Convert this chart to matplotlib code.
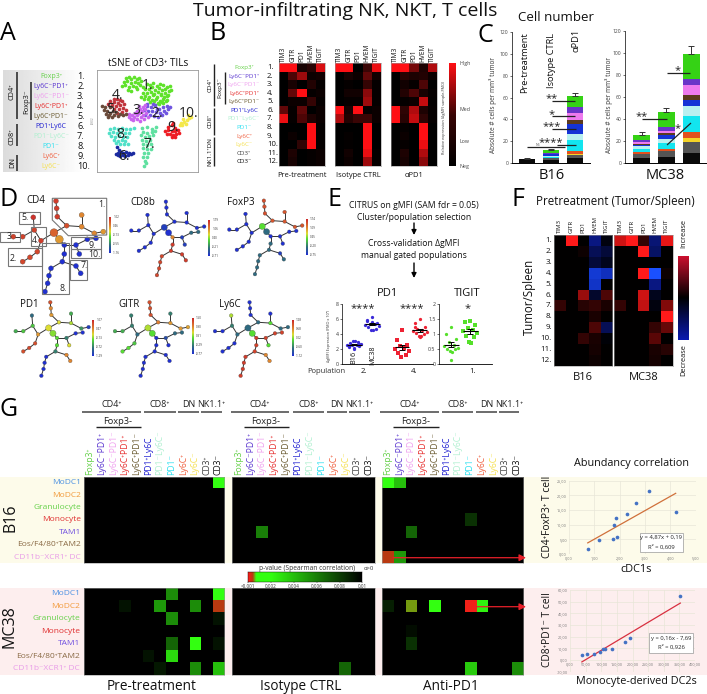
import numpy as np
import matplotlib
matplotlib.use('Agg')
import matplotlib.pyplot as plt
from matplotlib.colors import LinearSegmentedColormap
from matplotlib.patches import Rectangle, Polygon

plt.rcParams['font.family'] = ['Open Sans', 'DejaVu Sans']

W, H = 707, 694

# ---------- data ----------
markers = ['TIM3', 'GITR', 'PD1', 'HVEM', 'TIGIT']
pop_names = ['Foxp3⁺', 'Ly6C⁻PD1⁺', 'Ly6C⁻PD1⁻', 'Ly6C⁺PD1⁺', 'Ly6C⁺PD1⁻', 'PD1⁺Ly6C', 'PD1⁻Ly6C⁻', 'PD1⁻', 'Ly6C⁺', 'Ly6C⁻', 'CD3⁺', 'CD3⁻']
pop_colors = ['#66d14a', '#5a35d0', '#efa0ef', '#e62e2e', '#6a5a30', '#2020d0', '#b0f0d0', '#30e0f0', '#f06040', '#f5e050', '#444444', '#111111']

# panel A, tSNE clusters
c1 = [(378,234),(386,230),(394,236),(402,232),(410,238),(418,234),(372,246),(382,244),(392,248),(404,246),(414,250),(424,244),(366,258),(376,256),(388,260),(398,258),(408,262),(420,256),(430,260),(384,270),(394,272),(410,266),(440,252),(450,256),(460,250),(470,258),(480,252),(490,256),(500,262),(510,258),(436,266),(446,268),(456,262),(466,270),(476,264),(486,270),(496,266),(506,272),(514,270),(430,280),(440,278),(452,276),(462,282),(474,276),(484,282),(494,278),(504,284),(424,290),(436,288),(448,292),(458,286),(470,290),(482,284),(492,292),(502,288),(432,298),(444,296),(456,300),(468,296),(480,302),(490,298),(500,300),(450,306),(462,304),(474,310),(486,306),(498,304),(466,314),(478,312),(490,308)]
c2 = [(440,318),(452,322),(464,316),(476,326),(488,322),(500,318),(510,322),(432,330),(444,332),(456,334),(468,336),(480,338),(492,332),(504,328),(436,344),(450,346),(462,348),(474,350),(486,346),(498,340),(470,326),(458,312),(442,312)]
c3 = [(388,350),(396,344),(404,338),(412,332),(420,326),(428,320),(392,356),(402,352),(410,346),(418,340),(426,334),(434,328),(400,360),(412,358),(422,352),(430,346),(438,340),(420,362),(432,356),(444,352),(436,316),(416,318),(386,342)]
c4 = [(340,298),(350,296),(360,300),(330,304),(342,306),(354,308),(366,304),(322,312),(334,316),(348,318),(360,314),(372,312),(340,326),(356,328),(368,324),(350,338),(364,336),(378,330)]
c5 = [(306,318),(314,322),(310,330),(320,334),(316,342),(326,346),(322,352),(334,350),(342,344),(352,348),(360,342),(370,346),(378,342),(328,322),(338,332),(348,336),(330,340)]
c6 = [(346,462),(354,458),(362,456),(370,460),(378,456),(386,460),(394,462),(352,466),(360,468),(368,464),(376,468),(384,466),(398,458),(356,450),(350,440)]
c7 = [(425,385),(440,382),(455,386),(468,380),(430,395),(442,398),(455,395),(465,392),(422,405),(436,410),(448,408),(460,406),(425,420),(438,422),(450,420),(428,432),(440,436),(452,432),(430,445),(442,448),(452,446),(432,458),(444,460),(430,470),(440,472),(434,482),(438,490),(432,498)]
c8 = [(330,388),(342,384),(354,386),(366,384),(378,386),(390,388),(402,384),(326,398),(338,396),(350,398),(362,396),(374,398),(386,400),(332,408),(344,410),(356,408),(368,410),(380,410),(340,420),(352,422),(364,420),(376,422),(348,430),(360,432),(372,432),(384,432)]
c9 = [(505,380),(515,376),(525,384),(495,392),(505,390),(515,392),(525,394),(535,390),(500,402),(510,402),(520,404),(530,402),(538,400),(515,412),(525,410),(518,370)]
c10 = [(545,370),(553,366),(561,360),(569,354),(575,352),(540,376),(550,358),(558,372),(566,346),(548,376)]
clusters = [c1, c2, c3, c4, c5, c6, c7, c8, c9, c10]
cluster_colors = ['#5fe22a', '#6f55e0', '#c964ee', '#c0343c', '#6a4a3a', '#1a2aa0', '#5fe0a0', '#50e0c8', '#ee1c24', '#f4e84a']

# panel B
b_pre = [[1,1,.2,.35,.9],[0,.55,.75,.12,.15],[0,.2,0,.3,.05],[0,.6,1,.05,.1],[0,.1,.1,.45,.05],[.6,.05,.6,0,.1],
         [.95,.05,.55,.25,.1],[0,0,0,1,.05],[0,.1,0,1,.05],[0,0,.4,1,.05],[0,.25,0,.05,.1],[0,.2,0,.05,.1]]
b_iso = [[1,1,0,.5,.95],[0,.2,.1,.6,.15],[0,.05,0,.45,.05],[0,.15,.15,.7,.05],[0,.05,.05,.75,.05],[1,.2,1,.05,.1],
         [.8,.3,.5,.5,.1],[0,0,0,1,0],[0,.05,0,1,0],[0,.03,0,1,0],[0,.15,0,.95,.05],[0,.1,0,.75,.05]]
b_apd1 = [[1,1,.65,.25,.8],[0,.35,.25,.3,.1],[0,.15,.05,.55,0],[0,.3,.55,.2,.05],[0,.05,.1,.85,.03],[1,.4,.8,.25,.05],
          [1,.35,.85,.4,.05],[0,.05,0,1,0],[0,.1,0,1,0],[0,.05,0,.95,0],[0,.25,0,.8,0],[0,.2,0,.7,0]]

# panel C, stacks from bottom (CD3- ... Foxp3+)
stack_colors = ['#0a0a0a', '#555555', '#f5d327', '#e2501e', '#12e5ef', '#b8f0f0', '#1533d6', '#5c3a1e', '#ee7aee', '#6a35c8', '#35d215']
b16_pre = [3.8, 0, 0, 0, 0, 0, 0, 0, 0, 0, 0]
b16_iso = [3, 1.5, .2, .3, .8, .5, 1.5, .3, .3, .6, 3]
b16_apd1 = [4.5, 3, .5, 3, 10, 5.5, 9, 3.6, 6.6, 6, 10]
mc38_pre = [4.5, 3, .3, 2, 3, 2, 1.5, 1, 1.2, 2, 5]
mc38_iso = [5.5, 5, .5, 1.5, 5.5, 3.5, 4, 1.5, 2, 3.3, 14]
mc38_apd1 = [9, 9.5, 4, 5, 14.5, 9.5, 5.5, 4.5, 9, 5.5, 23]
b16_err = [.5, 1, 2.5]
mc38_err = [2.5, 3, 7]

# panel D, shared tree layout
tree_x = [168,170,172,200,245,245,283,310,162,178,123,103,100,68,40,112,90,68,193,228,262,288,238,193,187,228,242,153,147,143,135]
tree_y = [63,85,110,137,140,105,160,155,158,178,182,150,112,170,170,215,232,245,195,195,178,175,222,222,245,258,280,265,287,310,335]
tree_edges = [(0,1),(1,2),(2,3),(3,4),(4,5),(4,6),(6,7),(3,8),(8,9),(8,10),(10,11),(11,12),(11,13),(13,14),(10,15),(15,16),(16,17),(9,18),(18,19),(19,20),(20,21),(19,22),(18,23),(23,24),(24,25),(25,26),(24,27),(27,28),(28,29),(29,30)]
cd4_vals = [.95,.95,.95,.9,.75,.75,.75,.72,.85,.72,.95,.93,.98,.93,.93,.92,.92,.92,0,0,0,0,0,0,0,0,0,0,0,0,0]
cd8_vals = [0,0,0,0,0,0,0,0,.05,0,0,0,0,0,0,0,0,0,.75,.05,.2,.2,.05,.95,.95,.95,.95,.92,.92,.92,.92]
foxp3_vals = [.9,.9,.9,.88,.88,.88,.88,.88,.45,.2,0,0,0,0,0,0,0,0,0,0,0,0,0,.2,.2,.05,.2,.2,.2,.2,.2]
pd1_vals = [.9,.75,.72,.6,.55,.35,.3,.05,.6,.5,.72,.4,.2,.4,.35,.9,.92,.9,.45,.25,0,0,.6,.45,.25,.75,.75,0,0,0,0]
gitr_vals = [.9,.9,.9,.78,.72,.25,.72,.7,.55,.45,.2,.25,.25,.35,.35,.4,.45,.45,0,.1,.2,.2,0,0,0,0,0,0,0,0,0]
ly6c_vals = [0,0,0,.2,.45,0,.2,.2,.2,.45,.2,.25,.55,0,0,0,0,0,.95,.93,.93,.93,.45,.93,.93,.75,.75,.95,.95,.95,.95]
cd4_ticks = ['1.02', '0.46', '-0.13', '-0.55', '-1.16']
cd8_ticks = ['1.79', '1.06', '0.40', '-0.21', '-0.71']
foxp3_ticks = ['1.74', '1.09', '0.45', '-0.20', '-0.75']
pd1_ticks = ['1.07', '0.47', '-0.13', '-0.72', '-1.29']
gitr_ticks = ['1.50', '0.90', '0.31', '-0.29', '-0.77']
ly6c_ticks = ['1.28', '0.68', '0.02', '-0.60', '-1.12']

# panel E
pd1_p2_b16 = [2.2,2.3,2.4,2.5,2.6,2.6,2.7,2.8,3.0,3.1,3.1,2.0,2.4,2.7]
pd1_p2_mc38 = [6.3,5.9,5.5,5.4,5.3,5.2,5.1,5.0,4.7,4.5,4.5,5.6,5.7]
pd1_p4_b16 = [4.5,3.2,2.6,2.4,2.2,2.0,1.8,1.5,1.2,1.0]
pd1_p4_mc38 = [6.0,5.5,4.9,4.7,4.6,4.4,4.3,4.1,4.0,3.8,3.7,3.6,5.0]
tigit_b16 = [1.25,1.0,.85,.75,.65,.6,.55,.5,.5,.45,.4,.15]
tigit_mc38 = [1.45,1.4,1.3,1.2,1.15,1.1,1.05,.95,.9,.75,.7]

# panel F
f_b16 = [[0,1,0,-.45,-.05],[0,0,.05,-.3,-.2],[0,0,0,-.2,-.1],[0,0,0,-.8,-.7],[0,0,0,-.75,0],[0,0,.6,-.15,.3],
         [.2,0,.15,.2,.1],[0,0,0,.1,0],[0,0,0,.3,-.3],[0,0,.2,.1,-.03],[0,0,0,.08,0],[0,0,0,.05,0]]
f_mc38 = [[.8,1,.2,-.4,.9],[0,0,1,-.35,0],[0,0,0,0,0],[0,0,1,-1,.05],[0,0,0,-.45,0],[0,0,.8,-.1,0],
          [.2,0,.75,-.05,.5],[0,0,0,0,1],[0,0,0,.2,.4],[0,0,0,.35,0],[0,0,0,.1,.15],[0,0,0,.08,0]]

# panel G, p-values, n = not significant
n = 0.01
g_rows = ['MoDC1', 'MoDC2', 'Granulocyte', 'Monocyte', 'TAM1', 'Eos/F4/80⁺TAM2', 'CD11b⁻XCR1⁺ DC']
g_row_colors = ['#4a90e2', '#f29a3a', '#66d14a', '#e03030', '#7050e0', '#8a6a45', '#e89be8']
g_b16_pre = [[n,n,n,n,n,n,n,n,n,n,n,.002],[n]*12,[n]*12,[n]*12,[n]*12,[n]*12,[n]*12]
g_b16_iso = [[n]*12,[n]*12,[n]*12,[n]*12,[n,n,.006,n,n,n,n,n,n,n,n,n],[n]*12,[n]*12]
g_b16_apd1 = [[.002,.004,n,n,n,n,n,n,n,n,n,n],[n]*12,[n]*12,[n,n,n,n,n,n,n,.0084,n,n,n,n],
              [n,n,.0068,n,n,n,n,n,n,n,n,n],[n]*12,[.0004,.0052,n,n,n,n,n,n,n,n,n,n]]
g_mc38_pre = [[n,n,n,n,n,n,n,.0056,n,n,n,.002],[n,n,n,.0094,n,n,.0052,n,n,.0056,n,.0004],[n,n,n,n,n,n,n,.0056,n,n,n,.0094],
              [n]*12,[n,n,n,n,n,n,n,.0068,n,.002,n,.0094],[n,n,n,n,n,.0094,n,.0032,n,n,n,n],[n,n,n,n,n,n,.0092,n,n,.0056,n,.004]]
g_mc38_iso = [[n]*12,[n]*12,[n]*12,[n]*12,[n]*12,[n]*12,[n,n,n,n,n,n,n,n,n,.0068,n,n]]
g_mc38_apd1 = [[n]*12,[.009,n,.00055,n,.002,n,n,.0001,.0024,n,n,n],[n]*12,[n,n,.0096,n,n,n,n,n,n,n,n,n],
               [n,n,.0084,n,n,n,n,n,n,n,n,n],[n]*12,[n,n,n,n,n,n,n,.0036,n,n,n,.0056]]

# correlation scatters
corr1_x = [3.17,2.63,2.29,1.86,1.79,4.21,1.88,1.72,1.2,.74]
corr1_y = [21.6,17.3,13.8,12.2,9.9,14.3,5.9,5.1,4.8,1.8]
corr2_x = [353,192,177,135,112,104.5,97,78,53,38]
corr2_y = [54.6,18.6,15.4,9.4,9.1,9.1,6.6,5.1,5.1,4]

# ---------- helpers ----------
fig = plt.figure(figsize=(W / 100, H / 100), dpi=100)

def pax(x0, y0, x1, y1, **kw):
    return fig.add_axes([x0 / W, 1 - y1 / H, (x1 - x0) / W, (y1 - y0) / H], **kw)

bg = pax(0, 0, W, H, zorder=-1)
bg.set_xlim(0, W); bg.set_ylim(H, 0); bg.axis('off')
ov = pax(0, 0, W, H, zorder=20)
ov.set_xlim(0, W); ov.set_ylim(H, 0); ov.axis('off')
ov.patch.set_alpha(0)

def txt(x, y, s, size=6, color='#111111', ha='center', va='center', rot=0, **kw):
    ov.text(x, y, s, fontsize=size, color=color, ha=ha, va=va, rotation=rot, **kw)

def line(xs, ys, color='#222222', lw=1.0):
    ov.plot(xs, ys, color=color, lw=lw, solid_capstyle='butt')

def arrow(x0, y0, x1, y1, color='black', lw=1.0, ms=7):
    ov.annotate('', xy=(x1, y1), xytext=(x0, y0),
                arrowprops=dict(arrowstyle='-|>', color=color, lw=lw, mutation_scale=ms, shrinkA=0, shrinkB=0))

def heat(rect, vals, cmap, vmin, vmax):
    ax = pax(*rect)
    ax.imshow(np.array(vals), cmap=cmap, vmin=vmin, vmax=vmax, aspect='auto', interpolation='nearest')
    ax.set_xticks([]); ax.set_yticks([])
    for sp in ax.spines.values():
        sp.set_color('#999999'); sp.set_linewidth(.4)
    return ax

# panel letters and titles
txt(345, 11, 'Tumor-infiltrating NK, NKT, T cells', size=14)
for s, x, y in [('A', 8, 33), ('B', 218, 33), ('C', 485, 35), ('D', 9, 199), ('E', 334, 199), ('F', 518, 199), ('G', 9, 409)]:
    txt(x, y, s, size=18, color='black')

# ---------- A ----------
grad = pax(3, 70, 85, 172, zorder=0)
grad.imshow(np.linspace(.86, 1, 64)[None, :], cmap='gray', vmin=0, vmax=1, aspect='auto')
grad.axis('off')
a_y = [76.7, 86.6, 96.7, 106.7, 116.7, 126.7, 136.7, 146.7, 156.7, 166.7]
a_names = pop_names[:10]
for i in range(10):
    txt(51, a_y[i], a_names[i], size=5, color=pop_colors[i])
    txt(77, a_y[i], '%d.' % (i + 1), size=6.6, ha='left')
line([17, 17], [72, 119], lw=1.1)
line([17, 17], [124, 146], lw=1.1)
line([17, 17], [155, 171], lw=1.1)
line([30.5, 30.5], [82, 120], lw=1.1)
txt(12.5, 92, 'CD4⁺', size=5.3, rot=90)
txt(12.5, 137, 'CD8⁺', size=5.3, rot=90)
txt(12.5, 162, 'DN', size=5.3, rot=90)
txt(26.5, 102, 'Foxp3⁻', size=5.3, rot=90)

txt(148, 63.5, 'tSNE of CD3⁺ TILs', size=7.2)
tsne = pax(97, 70, 198, 172, zorder=2)
for pts, col in zip(clusters, cluster_colors):
    tsne.scatter([p[0] for p in pts], [p[1] for p in pts], s=7, color=col, linewidths=0)
tsne.set_xlim(290, 595); tsne.set_ylim(516, 210)
tsne.set_xticks([]); tsne.set_yticks([])
for sp in tsne.spines.values():
    sp.set_color('#999999'); sp.set_linewidth(.6)
tsne_lab = [(443,255),(470,340),(413,332),(353,285),(337,327),(372,470),(448,433),(367,403),(518,383),(565,340)]
for i, (x, y) in enumerate(tsne_lab):
    txt(x / 3, y / 3, '%d.' % (i + 1), size=10, color='#222222')
txt(93, 120, 'tSNE2', size=2, color='#777777', rot=90)

# ---------- B ----------
cm_red = LinearSegmentedColormap.from_list('blk_red', ['#000000', '#3a0505', '#ff0f14'])
for rect, vals, lab in [((279.3, 63.3, 325, 166), b_pre, 'Pre-treatment'),
                        ((335.3, 63.3, 381, 166), b_iso, 'Isotype CTRL'),
                        ((391, 63.3, 436.7, 166), b_apd1, 'αPD1')]:
    heat(rect, vals, cm_red, 0, 1)
    for j, m in enumerate(markers):
        txt(rect[0] + (j + .5) * (rect[2] - rect[0]) / 5, 61.5, m, size=4.8, rot=90, va='bottom')
    txt((rect[0] + rect[2]) / 2, 175, lab, size=5.4)
for i in range(12):
    yy = 63.3 + (i + .5) * 8.56
    txt(244, yy, pop_names[i], size=4.5, color=pop_colors[i])
    txt(267, yy, '%d.' % (i + 1), size=5.6, ha='left')
line([214, 214], [64, 106], lw=1.0)
line([214, 214], [108, 135], lw=1.0)
line([214, 214], [137, 166], lw=1.0)
line([225, 225], [72, 104], lw=1.0)
txt(210, 85, 'CD4⁺', size=4.5, rot=90)
txt(210, 121, 'CD8⁺', size=4.5, rot=90)
txt(210, 152, 'NK1.1⁺DN', size=4.5, rot=90)
txt(220, 88, 'Foxp3⁻', size=4.5, rot=90)
cb = pax(449, 63, 456, 166)
cb.imshow(np.linspace(1, 0, 128)[:, None], cmap=cm_red, aspect='auto')
cb.axis('off')
for s, y in [('High', 63), ('Med', 109), ('Low', 141), ('Neg', 166)]:
    txt(460, y, s, size=3.8, color='#444444', ha='left')
txt(444.5, 117, 'Relative expression (ΔgMFI sample-FMO)', size=2.8, rot=90, color='#333333')

# ---------- C ----------
txt(556, 17, 'Cell number', size=9.5)
def stacked(rect, xlim, groups, errs):
    ax = pax(*rect)
    for i, seg in enumerate(groups):
        bot = 0
        for v, col in zip(seg, stack_colors):
            ax.bar(i, v, bottom=bot, width=.69, color=col, linewidth=0)
            bot += v
        ax.errorbar(i, bot, yerr=[[0], [errs[i]]], color='#333333', lw=.7, capsize=2.5, capthick=.7)
    ax.set_xlim(*xlim); ax.set_ylim(0, 120)
    ax.set_yticks(range(0, 121, 20))
    ax.set_xticks([])
    ax.tick_params(axis='y', labelsize=3.6, length=1.5, width=.4, pad=1, labelcolor='#444444')
    ax.spines['top'].set_visible(False); ax.spines['right'].set_visible(False)
    ax.spines['left'].set_linewidth(.5); ax.spines['bottom'].set_linewidth(.7)
    ax.patch.set_alpha(0)
    return ax
stacked((512, 32, 590, 163), (-.625, 2.625), [b16_pre, b16_iso, b16_apd1], b16_err)
stacked((625, 30.7, 707, 162.7), (-.69, 2.65), [mc38_pre, mc38_iso, mc38_apd1], mc38_err)
txt(493, 105, 'Absolute # cells per mm³ tumor', size=4.7, rot=90, color='#333333')
txt(609, 105, 'Absolute # cells per mm³ tumor', size=4.7, rot=90, color='#333333')
txt(525, 93, 'Pre-treatment', size=6.7, rot=90, va='bottom')
txt(551, 88, 'Isotype CTRL', size=6.7, rot=90, va='bottom')
txt(576, 52, 'αPD1', size=6.7, rot=90, va='bottom')
txt(552, 175, 'B16', size=10.5)
txt(665, 175, 'MC38', size=10.5)
line([527, 565], [147, 147], lw=.9)
txt(538, 145, 'NS', size=2.5, color='#555555')
line([557, 576], [145, 145], lw=.9)
line([552, 576], [129, 129], lw=.9)
line([552, 575], [116, 116], lw=.9)
line([552, 575], [100.5, 100.5], lw=.9)
line([642, 667], [118.5, 118.5], lw=.9)
line([667, 691], [145, 123], lw=.9)
line([667, 690], [73, 73], lw=.9)
for x, y, s in [(551, 143, '****'), (552, 127, '***'), (552, 115, '*'), (552, 99, '**'),
                (642, 117, '**'), (678, 129, '*'), (678, 71, '*')]:
    txt(x, y, s, size=8, color='#222222')

# ---------- D ----------
cm_tree = LinearSegmentedColormap.from_list('tree', [(0, '#2030d0'), (.22, '#2f7078'), (.45, '#55dd33'), (.6, '#dddd33'), (.75, '#e08830'), (1, '#cc2a2a')])
def tree(ox, oy, sc, vals, s0, s1, title, tx, ty, cbx, cby0, ticks):
    ax = pax(ox, oy, ox + 270 * sc, oy + 272 * sc)
    for a, b in tree_edges:
        ax.plot([tree_x[a], tree_x[b]], [tree_y[a], tree_y[b]], color='#333333', lw=.7, zorder=1, clip_on=False)
    sizes = [s1 if i in (8, 9) else s0 for i in range(len(tree_x))]
    ax.scatter(tree_x, tree_y, s=sizes, c=vals, cmap=cm_tree, vmin=0, vmax=1, linewidths=.2, edgecolors='#444444', zorder=2, clip_on=False)
    ax.set_xlim(40, 310); ax.set_ylim(335, 63); ax.axis('off')
    ax.patch.set_alpha(0)
    txt(tx, ty, title, size=7)
    c = pax(cbx, cby0, cbx + 1.8, cby0 + 36)
    c.imshow(np.linspace(1, 0, 64)[:, None], cmap=cm_tree, aspect='auto'); c.axis('off')
    for k, t in enumerate(ticks):
        txt(cbx + 4, cby0 + k * 9, t, size=2.2, color='#333333', ha='left')

tree(13.3, 201, 1 / 3, cd4_vals, 13, 33, 'CD4', 36, 200.7, 109.3, 216.7, cd4_ticks)
tree(131.3, 201.7, .27, cd8_vals, 7, 20, 'CD8b', 142.7, 202.3, 208.3, 220, cd8_ticks)
tree(229.3, 200.7, .27, foxp3_vals, 7, 20, 'FoxP3', 240.7, 202.3, 306, 219.3, foxp3_ticks)
tree(15.7, 302.3, .27, pd1_vals, 7, 20, 'PD1', 29, 304, 92.3, 320, pd1_ticks)
tree(115, 302.3, .27, gitr_vals, 7, 20, 'GITR', 129.3, 304, 191.7, 318.3, gitr_ticks)
tree(215, 302.3, .27, ly6c_vals, 7, 20, 'Ly6C', 230, 304, 291.7, 320, ly6c_ticks)

# boxes over CD4 tree
gr = '#777777'
ov.add_patch(Polygon([(52.3, 198.3), (106.7, 198.3), (106.7, 235), (68.3, 235.7), (52.3, 220)], fill=False, ec=gr, lw=.8))
for x0, y0, x1, y1 in [(7.7, 248.3, 41.7, 266), (0, 231.7, 20, 242.3), (30.7, 226.7, 45.7, 245.7), (19.3, 211.7, 40, 224),
                       (70, 260, 87.3, 280), (42.3, 243.3, 69.3, 294), (70.7, 236.7, 100.7, 249), (70.7, 249.3, 100.7, 258.3)]:
    ov.add_patch(Rectangle((x0, y0), x1 - x0, y1 - y0, fill=False, ec=gr, lw=.8))
for s, x, y in [('1.', 102, 204), ('2.', 13.3, 258.3), ('3', 9.3, 236.7), ('4.', 35, 240.7), ('5.', 25, 217.7),
                ('7.', 84, 265), ('8.', 63.3, 288.3), ('9.', 91.7, 245), ('10.', 94, 254)]:
    txt(x, y, s, size=6.3, color='#222222')

# ---------- E ----------
txt(414, 205, 'CITRUS on gMFI (SAM fdr = 0.05)', size=6.2)
txt(414, 217, 'Cluster/population selection', size=6.2)
arrow(414, 223, 414, 235)
txt(414, 243, 'Cross-validation ΔgMFI', size=6.2)
txt(414, 255, 'manual gated populations', size=6.2)
arrow(414, 263, 414, 278)
txt(387, 293, 'PD1', size=8)
txt(467, 293, 'TIGIT', size=8)

jit = [0, -5, 5, -2.5, 2.5, -7, 7, -4, 4, -1, 1]
def swarm(ax, cx, vals, col, mk):
    xs = [cx + jit[i % len(jit)] for i in range(len(vals))]
    ax.scatter(xs, vals, s=5.5, color=col, marker=mk, linewidths=0, clip_on=False)
    m = np.mean(vals)
    sem = np.std(vals) / np.sqrt(len(vals))
    ax.hlines(m, cx - 7.5, cx + 7.5, color='black', lw=.8)
    ax.errorbar(cx, m, yerr=sem, color='black', lw=.7, capsize=2.5, capthick=.7)

def e_axes(rect, ymax, ticks, labs):
    ax = pax(*rect)
    ax.set_xlim(0, rect[2] - rect[0]); ax.set_ylim(0, ymax)
    ax.set_xticks([]); ax.set_yticks(ticks); ax.set_yticklabels(labs)
    ax.tick_params(axis='y', labelsize=3.8, length=1.5, width=.4, pad=1, labelcolor='#333333')
    ax.spines['top'].set_visible(False); ax.spines['right'].set_visible(False)
    ax.spines['left'].set_linewidth(.5); ax.spines['bottom'].set_linewidth(.6)
    ax.patch.set_alpha(0)
    return ax
ep = e_axes((342, 304, 433, 364), 8, [0, 2, 4, 6, 8], ['0', '2', '4', '6', '8'])
swarm(ep, 12, pd1_p2_b16, '#3a2ad8', 'o')
swarm(ep, 30, pd1_p2_mc38, '#3a2ad8', 'o')
swarm(ep, 60, pd1_p4_b16, '#ee2233', 's')
swarm(ep, 78, pd1_p4_mc38, '#ee2233', 'o')
et = e_axes((439, 304, 492, 364), 2, [0, .5, 1, 1.5, 2], ['0', '0.5', '1', '1.5', '2'])
swarm(et, 12, tigit_b16, '#55e02a', 'o')
swarm(et, 31, tigit_mc38, '#55e02a', 's')
txt(329, 336, 'ΔgMFI Expression (FMO x 10³)', size=2.7, rot=90, color='#333333')
txt(353.5, 357, 'B16', size=5.2, rot=90)
txt(372.5, 355, 'MC38', size=5.2, rot=90)
txt(363, 309, '****', size=8, color='#222222')
txt(412, 309, '****', size=8, color='#222222')
txt(468, 309, '*', size=8, color='#222222')
txt(326.5, 371, 'Population', size=5.5, color='#333333')
txt(364, 371, '2.', size=5.6)
txt(414, 371, '4.', size=5.6)
txt(473, 371, '1.', size=5.6)

# ---------- F ----------
cm_div = LinearSegmentedColormap.from_list('div', ['#1a50ff', '#0a1a90', '#000000', '#800a0a', '#ff1a1a'])
for rect, vals, lab in [((554, 235, 612.3, 366), f_b16, 'B16'), ((614.3, 235, 672.7, 366), f_mc38, 'MC38')]:
    heat(rect, vals, cm_div, -1, 1)
    for j, m in enumerate(markers):
        txt(rect[0] + (j + .5) * (rect[2] - rect[0]) / 5, 232.5, m, size=4.3, rot=90, va='bottom')
    txt((rect[0] + rect[2]) / 2, 377, lab, size=8)
for i in range(12):
    txt(552, 235 + (i + .5) * 10.92, '%d.' % (i + 1), size=5.8, ha='right')
txt(615, 201, 'Pretreatment (Tumor/Spleen)', size=8.3)
txt(529, 297, 'Tumor/Spleen', size=8.3, rot=90)
cf = pax(678, 255.7, 689, 340)
cf.imshow(np.linspace(1, -1, 128)[:, None], cmap=LinearSegmentedColormap.from_list('d2', ['#0a1ab0', '#000000', '#d01030']), vmin=-1, vmax=1, aspect='auto')
cf.axis('off')
txt(684, 233, 'Increase', size=5.3, rot=90)
txt(684, 360, 'Decrease', size=5.3, rot=90)

# ---------- G ----------
bg.add_patch(Rectangle((0, 476.7), W, 86.6, color='#fdfbea', lw=0))
bg.add_patch(Rectangle((0, 587.7), W, 87.3, color='#fdeeee', lw=0))
cm_p = LinearSegmentedColormap.from_list('pv', [(0, '#ff1a1a'), (.04, '#b83a10'), (.07, '#33ff11'), (.2, '#33ff11'), (1, '#000000')])
g_lefts = [(84, 224.3), (232.3, 375), (381.7, 522.7)]
for k, (a, b) in enumerate(g_lefts):
    heat((a, 476.7, b, 563.3), [g_b16_pre, g_b16_iso, g_b16_apd1][k], cm_p, 0, .01)
    heat((a, 587.7, b, 675), [g_mc38_pre, g_mc38_iso, g_mc38_apd1][k], cm_p, 0, .01)
    for j in range(12):
        txt(a + (j + .5) * (b - a) / 12, 474.5, pop_names[j], size=6.2, color=pop_colors[j], rot=90, va='bottom')
    for lab, c0, c1 in [('CD4⁺', -1.7, 57), ('CD8⁺', 60.3, 91.7), ('DN', 94.3, 115), ('NK1.1⁺', 117, 137.7)]:
        line([a + c0, a + c1], [411.7, 411.7], color='#444444', lw=1.1)
        txt(a + (c0 + c1) / 2, 404, lab, size=6.5, color='#222222')
    line([a + 11.7, a + 57], [426.7, 426.7], color='#222222', lw=1.0)
    txt(a + 33.7, 421, 'Foxp3-', size=6.7, color='#222222')
for i in range(7):
    txt(81, 476.7 + (i + .5) * 12.37, g_rows[i], size=6, color=g_row_colors[i], ha='right')
    txt(80, 587.7 + (i + .5) * 12.47, g_rows[i], size=6, color=g_row_colors[i], ha='right')
txt(10, 518, 'B16', size=11.5, rot=90)
txt(10, 627, 'MC38', size=11.5, rot=90)
txt(152, 686, 'Pre-treatment', size=9.8)
txt(300.7, 686, 'Isotype CTRL', size=9.8)
txt(451, 686, 'Anti-PD1', size=9.8)
arrow(393, 557.7, 526, 557.7, color='#e8202a', lw=.9, ms=10)
arrow(475, 606.7, 526, 606.7, color='#e8202a', lw=.9, ms=10)

cg = pax(248.3, 572.3, 362.3, 581.7)
cg.imshow(np.linspace(0, .01, 256)[None, :], cmap=cm_p, vmin=0, vmax=.01, aspect='auto', extent=[0, .01, 0, 1])
cg.set_yticks([]); cg.set_xticks([0, .002, .004, .006, .008, .01])
cg.set_xticklabels(['<0.001', '0.002', '0.004', '0.006', '0.008', '0.01'])
cg.tick_params(axis='x', labelsize=3.3, length=1, width=.3, pad=.5, labelcolor='#333333')
for sp in cg.spines.values():
    sp.set_linewidth(.3)
txt(306.7, 568, 'p-value (Spearman correlation)', size=4.8, color='#333333')
txt(369, 568, 'α>0', size=4.2, color='#333333')

# correlation plots
def corr(rect, xlim, ylim, xt, yt, xs, ys, coef, lcol, xl, yl, xlx, xly, ylx, yly, box, lines):
    ax = pax(*rect)
    ax.set_xlim(*xlim); ax.set_ylim(*ylim)
    ax.set_xticks(xt); ax.set_yticks(yt)
    fx = lambda v: ('%.2f' % v).replace('.', ',')
    ax.set_xticklabels([fx(v) for v in xt]); ax.set_yticklabels([fx(v) for v in yt])
    ax.tick_params(labelsize=2.7, length=0, pad=1.5, labelcolor='#777777')
    ax.grid(True, color='#e8e6d8', lw=.5)
    ax.set_axisbelow(True)
    for sp in ax.spines.values():
        sp.set_visible(False)
    ax.spines['bottom'].set_position(('data', 0))  # labels sit on y=0 like the excel chart
    ax.patch.set_alpha(0)
    xf = np.array([min(xs), max(xs)])
    ax.plot(xf, np.polyval(coef, xf), color=lcol, lw=.9)
    ax.scatter(xs, ys, s=7, color='#4472c4', linewidths=0, zorder=3, clip_on=False)
    txt(xlx, xly, xl, size=7.8)
    txt(ylx, yly, yl, size=7.4, rot=90)
    ov.add_patch(Rectangle((box[0], box[1]), box[2] - box[0], box[3] - box[1], fc='white', ec='#999999', lw=.5))
    cy = (box[1] + box[3]) / 2
    txt((box[0] + box[2]) / 2, cy - 4.5, lines[0], size=4.2, color='#222222')
    txt((box[0] + box[2]) / 2, cy + 4.5, lines[1], size=4.2, color='#222222')
    return ax

txt(631, 463, 'Abundancy correlation', size=7.8)
corr((569, 480.7, 695.7, 554), (0, 5), (0, 25), [0, 1, 2, 3, 4, 5], [0, 5, 10, 15, 20, 25], corr1_x, corr1_y, (4.87, .19), '#d0703a',
     'cDC1s', 'CD4⁺FoxP3⁺ T cell', 636, 569, 547, 517, (640, 532.7, 682.7, 551.7), ('y = 4,87x + 0,19', 'R² = 0,609'))
ax2 = corr((570, 590, 695, 671.7), (0, 400), (-10, 60), [0, 50, 100, 150, 200, 250, 300, 350, 400], [-10, 0, 10, 20, 30, 40, 50, 60], corr2_x, corr2_y, (.16, -7.69), '#d83040',
     'Monocyte-derived DC2s', 'CD8⁺PD1⁻ T cell', 636, 681.7, 547, 630, (649.3, 633.3, 693.3, 652.7), ('y = 0,16x - 7,69', 'R² = 0,926'))

fig.savefig('out.png', dpi=100, facecolor='white')
